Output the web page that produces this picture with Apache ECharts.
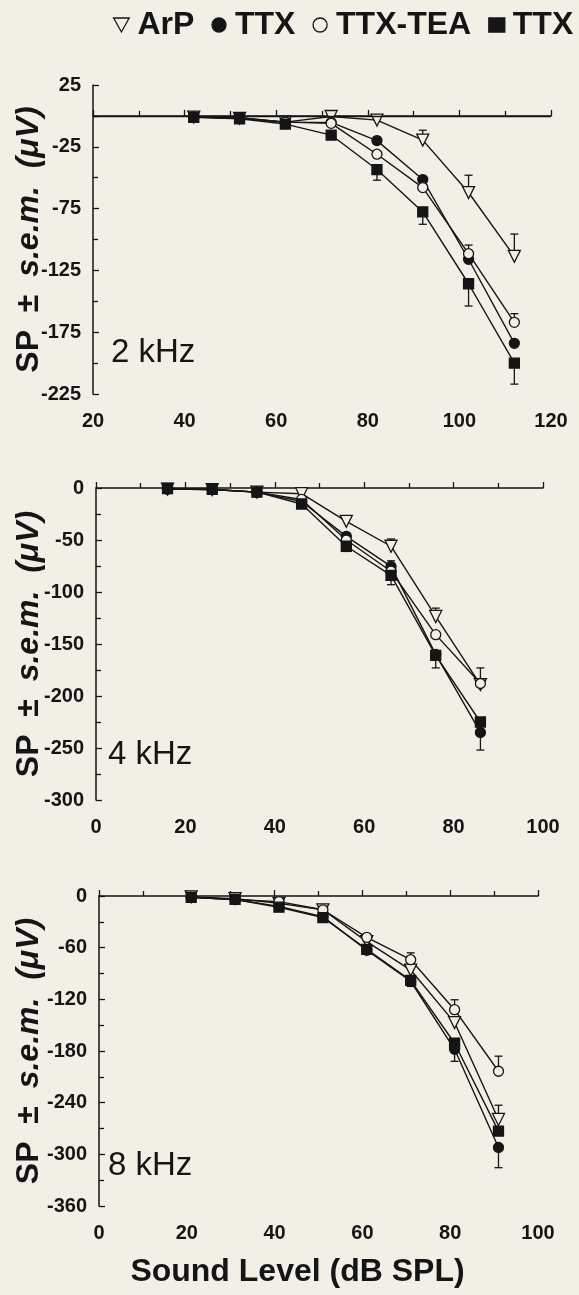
<!DOCTYPE html>
<html>
<head>
<meta charset="utf-8">
<script src="https://cdn.jsdelivr.net/npm/echarts@6/dist/echarts.min.js"></script>
<style>
  html, body { margin: 0; padding: 0; background: #f1efe6; }
  #chart { width: 579px; height: 1295px; }
</style>
</head>
<body>
<div id="chart"></div>
<script>
// sound levels (dB SPL) for each panel
const x2k = [42, 52, 62, 72, 82, 92, 102, 112];
const x4k = [16, 26, 36, 46, 56, 66, 76, 86];
const x8k = [21, 31, 41, 51, 61, 71, 81, 91];

// 2 kHz, SP in uV
const arp2 = [-1, -2, -5, -0.5, -3.4, -19.6, -62, -113.6];
const ttx2 = [-1.2, -1.5, -5, -5.3, -20, -51.5, -116, -184];
const tea2 = [-1, -1.5, -5, -6, -31, -58, -111.5, -167];
const wash2 = [-1.2, -2.3, -6.6, -15.5, -43.4, -77.7, -135.8, -200];
// s.e.m. (only the drawn half)
const arpErr2 = [0, 0, 0, 0, 3, 8, 14, 18];
const ttxErr2 = [0, 0, 0, 0, 0, 0, 0, 0];
const teaErr2 = [0, 0, 0, 0, 0, 0, 7, 7];
const washErr2 = [0, 0, 0, 0, 8.6, 10, 18, 17];

// 4 kHz
const arp4 = [-1, -1.5, -4, -5.5, -32, -56, -123.5, -189];
const ttx4 = [-1, -1.5, -4, -13, -46.5, -75.4, -160, -235];
const tea4 = [-1, -1.5, -4, -11, -50, -80, -141, -188];
const wash4 = [-0.5, -1.3, -4, -15.4, -56, -84, -161, -225];
const arpErr4 = [0, 0, 0, 0, 0, 7, 8, 16];
const ttxErr4 = [0, 0, 0, 0, 0, 0, 0, 17];
const teaErr4 = [0, 0, 0, 0, 0, 10, 0, 0];
const washErr4 = [0, 0, 0, 0, 5, 9, 12, 0];

// 8 kHz
const arp8 = [-1, -3, -8.5, -16, -53, -86, -147, -259.5];
const ttx8 = [-1.5, -4, -12, -24, -63, -99, -178, -292];
const tea8 = [-1.5, -4, -6.5, -16, -48, -74, -132, -203.5];
const wash8 = [-1.5, -4, -13, -25, -62, -98, -171, -273];
const arpErr8 = [0, 0, 0, 0, 0, 0, 0, 16.5];
const ttxErr8 = [0, 0, 0, 0, 0, 0, 0, 23.5];
const teaErr8 = [0, 0, 0, 0, 0, 8, 11.5, 17.5];
const washErr8 = [0, 0, 0, 0, 0, 7, 21, 0];

const panelLabels = ['2 kHz', '4 kHz', '8 kHz'];
const legendNames = ['ArP', 'TTX', 'TTX-TEA', 'TTX '];

const BG = '#f1efe6';
const INK = '#151515';
const FONT = '"Liberation Sans", Arial, sans-serif';
const triDown = 'path://M0,0L10,0L5,9Z';

const markers = [
  { symbol: triDown, size: 12, fill: BG, dir: 1 },
  { symbol: 'circle', size: 10, fill: INK, dir: -1 },
  { symbol: 'circle', size: 10, fill: BG, dir: 1 },
  { symbol: 'rect', size: 10, fill: INK, dir: -1 }
];

const panels = [
  { xs: x2k, ys: [arp2, ttx2, tea2, wash2], errs: [arpErr2, ttxErr2, teaErr2, washErr2] },
  { xs: x4k, ys: [arp4, ttx4, tea4, wash4], errs: [arpErr4, ttxErr4, teaErr4, washErr4] },
  { xs: x8k, ys: [arp8, ttx8, tea8, wash8], errs: [arpErr8, ttxErr8, teaErr8, washErr8] }
];

const grids = [
  { left: 93, top: 85, width: 458, height: 309, outerBoundsMode: 'none' },
  { left: 96, top: 488, width: 447, height: 312, outerBoundsMode: 'none' },
  { left: 99, top: 896, width: 439, height: 310, outerBoundsMode: 'none' }
];

const xRanges = [[20, 120], [0, 100], [0, 100]];
const yRanges = [[-225, 25, 50], [-300, 0, 50], [-360, 0, 60]];
const kHzPos = [[106, 331], [103, 733], [103, 1144]];

const axisLine = { lineStyle: { color: INK, width: 1.5 } };
const tickStyle = { lineStyle: { color: INK, width: 1.3 } };
const labelStyle = { color: INK, fontFamily: FONT, fontWeight: 'bold', fontSize: 20 };

const xAxes = xRanges.map((r, i) => ({
  type: 'value', gridIndex: i, min: r[0], max: r[1], interval: 20,
  splitLine: { show: false },
  axisLine: axisLine,
  axisTick: Object.assign({ inside: true, length: 6 }, tickStyle),
  minorTick: Object.assign({ show: true, splitNumber: 2, length: 5 }, tickStyle),
  axisLabel: Object.assign({ margin: 17 }, labelStyle),
  name: i === 2 ? 'Sound Level (dB SPL)' : '',
  nameLocation: 'middle', nameGap: 50,
  nameTextStyle: {
    color: INK, fontFamily: FONT, fontWeight: 'bold', fontSize: 32,
    padding: [0, 42, 0, 0]
  }
}));

const yAxes = yRanges.map((r, i) => ({
  type: 'value', gridIndex: i, min: r[0], max: r[1], interval: r[2],
  splitLine: { show: false },
  axisLine: axisLine,
  axisTick: Object.assign({ inside: true, length: 6 }, tickStyle),
  minorTick: Object.assign({ show: true, splitNumber: 2, length: 5 }, tickStyle),
  axisLabel: Object.assign({ margin: 12 }, labelStyle),
  name: '{a|SP  ±  }{b|s.e.m.  (μV)}',
  nameLocation: 'middle', nameGap: grids[i].left - 45,
  nameMoveOverlap: false,
  nameTextStyle: {
    color: INK, fontFamily: FONT, fontWeight: 'bold', fontSize: 32,
    rich: {
      a: { fontFamily: FONT, fontWeight: 'bold', fontSize: 32, color: INK },
      b: { fontFamily: FONT, fontWeight: 'bold', fontStyle: 'italic', fontSize: 32, color: INK }
    }
  }
}));

const series = [];
panels.forEach((p, gi) => {
  p.ys.forEach((ys, si) => {
    const m = markers[si];
    const s = {
      name: legendNames[si],
      type: 'line', xAxisIndex: gi, yAxisIndex: gi, z: 3,
      data: p.xs.map((x, k) => [x, ys[k]]),
      symbol: m.symbol, symbolSize: m.size, showSymbol: true,
      lineStyle: { color: INK, width: 1.4 },
      itemStyle: { color: m.fill, borderColor: INK, borderWidth: 1.3 },
      animation: false
    };
    if (gi === 0 && si === 0) {
      s.markLine = {
        silent: true, symbol: 'none', label: { show: false },
        lineStyle: { color: INK, width: 1.4, type: 'solid' },
        data: [{ yAxis: 0 }]
      };
    }
    series.push(s);
    // error bars, one-sided
    series.push({
      type: 'custom', xAxisIndex: gi, yAxisIndex: gi, z: 2, silent: true,
      data: p.xs.map((x, k) => [x, ys[k], p.errs[si][k]]),
      renderItem: function (params, api) {
        const e = api.value(2);
        if (!e) return null;
        const a = api.coord([api.value(0), api.value(1)]);
        const b = api.coord([api.value(0), api.value(1) + m.dir * e]);
        const st = { stroke: INK, lineWidth: 1.3 };
        return {
          type: 'group',
          children: [
            { type: 'line', shape: { x1: a[0], y1: a[1], x2: b[0], y2: b[1] }, style: st },
            { type: 'line', shape: { x1: b[0] - 4, y1: b[1], x2: b[0] + 4, y2: b[1] }, style: st }
          ]
        };
      },
      animation: false
    });
  });
});

const chart = echarts.init(document.getElementById('chart'));
chart.setOption({
  backgroundColor: BG,
  animation: false,
  legend: {
    left: 108, top: 4, width: 1200, itemGap: 17,
    itemWidth: 16, itemHeight: 14,
    selectedMode: false,
    textStyle: { color: INK, fontFamily: FONT, fontWeight: 'bold', fontSize: 32, padding: [0, 0, 0, 3] },
    data: legendNames.map((n, i) => ({
      name: n,
      icon: markers[i].symbol,
      itemStyle: { color: markers[i].fill, borderColor: INK, borderWidth: 1.3 }
    }))
  },
  title: panelLabels.map((t, i) => ({
    text: t, left: kHzPos[i][0], top: kHzPos[i][1],
    textStyle: { color: INK, fontFamily: FONT, fontWeight: 'normal', fontSize: 33 }
  })),
  grid: grids,
  xAxis: xAxes,
  yAxis: yAxes,
  series: series
});
</script>
</body>
</html>
